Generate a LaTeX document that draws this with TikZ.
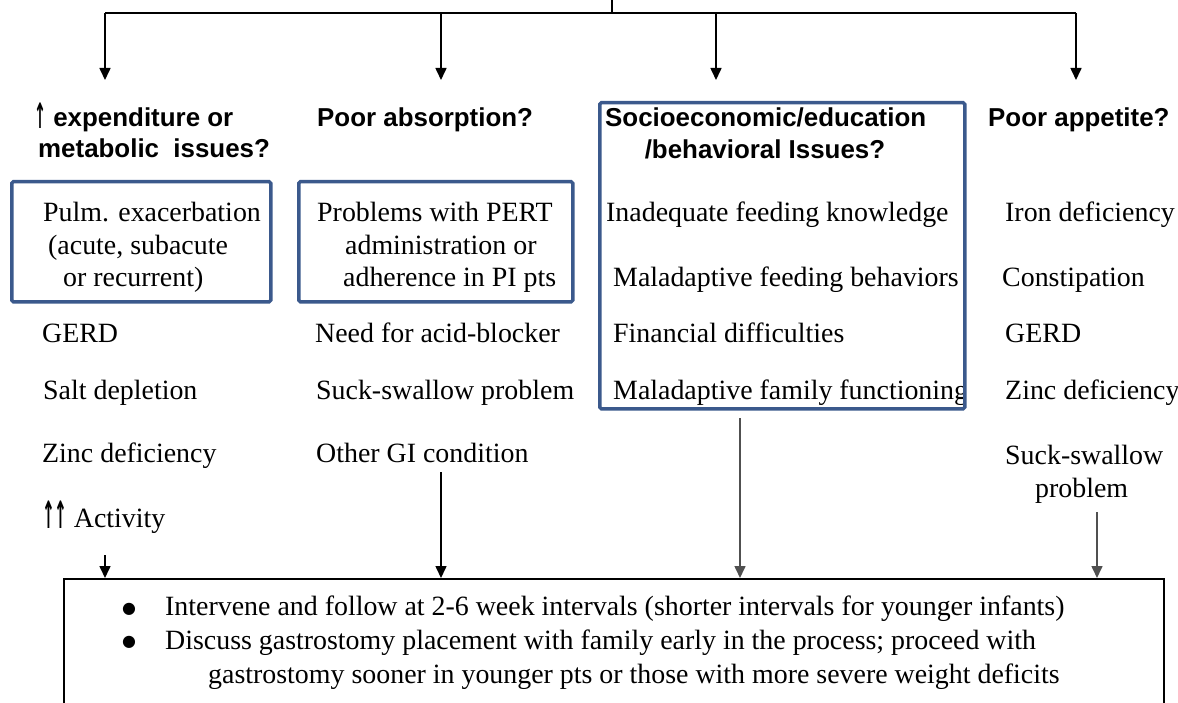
\documentclass[tikz,border=0pt]{standalone}
\usepackage{fontspec}
\setmainfont{Liberation Serif}
\newfontfamily\hdrfont{Liberation Sans}
\newfontfamily\symfont{DejaVu Sans}
\usetikzlibrary{arrows.meta}
\definecolor{boxblue}{RGB}{59,89,140}
\definecolor{arrgray}{RGB}{80,80,80}
\newcommand{\tallup}{\raisebox{-1.5pt}{\scalebox{0.55}[1.35]{\symfont\bfseries ↑}}}
\begin{document}
\begin{tikzpicture}[x=1bp,y=-1bp,
  item/.style={anchor=base west, inner sep=0pt, font=\fontsize{28}{33}\selectfont},
  hdr/.style={anchor=base west, inner sep=0pt, font=\hdrfont\bfseries\fontsize{26}{30}\selectfont},
  btxt/.style={anchor=base west, inner sep=0pt, font=\fontsize{28}{33}\selectfont},
  bul/.style={anchor=center, inner sep=0pt, font=\symfont\fontsize{16}{16}\selectfont},
  bbox/.style={draw=boxblue, line width=3.5bp, rounded corners=1.5bp, anchor=north west, inner sep=0pt},
  arr/.style={draw, line width=1.6bp, -{Triangle[width=11bp,length=12bp]}},
  garr/.style={arr, draw=arrgray, -{Triangle[width=11bp,length=12bp,fill=arrgray]}}
]
\useasboundingbox (0,0) rectangle (1178,703);
\clip (0,0) rectangle (1178,703);

% top bus
\coordinate (top) at (612,0);
\coordinate (bus) at (612,13);
\coordinate (b1) at (105,13);
\coordinate (b2) at (441,13);
\coordinate (b3) at (716,13);
\coordinate (b4) at (1076,13);
\coordinate (a1) at (105,80);
\coordinate (a2) at (441,80);
\coordinate (a3) at (716,80);
\coordinate (a4) at (1076,80);
\draw[line width=1.6bp] (top) -- (bus);
\draw[line width=1.6bp] (b1) -- (b4);
\draw[arr] (b1) -- (a1);
\draw[arr] (b2) -- (a2);
\draw[arr] (b3) -- (a3);
\draw[arr] (b4) -- (a4);

% headers
\node[hdr] (h1a) at (34,127) {\tallup\ expenditure or};
\node[hdr] (h1b) at (38,158) {metabolic\ \ issues?};
\node[hdr] (h2) at (317,127) {Poor absorption?};
\node[hdr] (h3a) at (605,127) {Socioeconomic/education};
\node[hdr, anchor=base] (h3b) at (765,159) {/behavioral Issues?};
\node[hdr] (h4) at (988,127) {Poor appetite?};

% column 1
\node[item] (p1) at (43,222) {Pulm. exacerbation};
\node[item] (p2) at (48,254) {(acute, subacute};
\node[item] (p3) at (63,286) {or recurrent)};
\node[item] (g1) at (42,342) {GERD};
\node[item] (s1) at (43,399) {Salt depletion};
\node[item] (z1) at (42,462) {Zinc deficiency};
\node[item] (act) at (42,527) {\tallup\kern-1pt\tallup\ Activity};

% column 2
\node[item] (q1) at (317,222) {Problems with PERT};
\node[item] (q2) at (345,254) {administration or};
\node[item] (q3) at (343,286) {adherence in PI pts};
\node[item] (n2) at (315,342) {Need for acid-blocker};
\node[item] (s2) at (316,399) {Suck-swallow problem};
\node[item] (o2) at (316,462) {Other GI condition};

% column 3
\begin{scope}
\clip (598,101) rectangle (963,407);
\node[item] (r1) at (606,222) {Inadequate feeding knowledge};
\node[item] (r2) at (613,286) {Maladaptive feeding behaviors};
\node[item] (r3) at (613,342) {Financial difficulties};
\node[item] (r4) at (613,399) {Maladaptive family functioning};
\end{scope}

% column 4
\node[item] (i4) at (1005,222) {Iron deficiency};
\node[item] (c4) at (1002,286) {Constipation};
\node[item] (g4) at (1005,342) {GERD};
\node[item] (z4) at (1005,399) {Zinc deficiency};
\node[item] (sw4) at (1005,464) {Suck-swallow};
\node[item] (pr4) at (1035,497) {problem};

% blue boxes
\node[bbox, minimum width=259bp, minimum height=120bp] (box1) at (10,180) {};
\node[bbox, minimum width=274bp, minimum height=120bp] (box2) at (297,180) {};
\node[bbox, minimum width=365bp, minimum height=306bp] (box3) at (598,101) {};

% bottom box
\node[draw, line width=2bp, anchor=north west, inner sep=0pt,
      minimum width=1100bp, minimum height=200bp] (bottom) at (63,578) {};
\node[bul] (bu1) at (129,609) {●};
\node[bul] (bu2) at (129,642) {●};
\node[btxt] (t1) at (165,615) {Intervene and follow at 2-6 week intervals (shorter intervals for younger infants)};
\node[btxt] (t2) at (165,649) {Discuss gastrostomy placement with family early in the process; proceed with};
\node[btxt] (t3) at (208,683) {gastrostomy sooner in younger pts or those with more severe weight deficits};

% arrows into bottom box
\draw[arr, shorten <=22bp] (act.south -| b1) -- (b1 |- bottom.north);
\draw[arr, shorten <=10bp] (o2.south -| b2) -- (b2 |- bottom.north);
\coordinate (c3) at (740,418);
\draw[garr] (c3) -- (c3 |- bottom.north);
\coordinate (c4) at (1097,512);
\draw[garr] (c4) -- (c4 |- bottom.north);
\end{tikzpicture}
\end{document}
